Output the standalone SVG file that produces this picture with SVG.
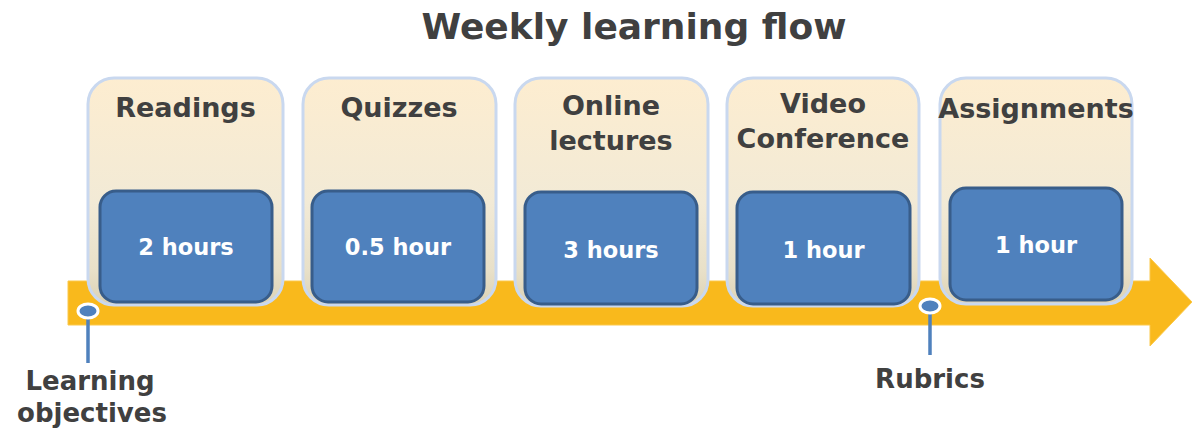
<svg xmlns="http://www.w3.org/2000/svg" width="1192" height="432" viewBox="0 0 1192 432">
  <defs>
    <linearGradient id="cardFill" x1="0" y1="0" x2="0" y2="1">
      <stop offset="0" stop-color="#fdedd0"/>
      <stop offset="0.55" stop-color="#f2ead6"/>
      <stop offset="0.85" stop-color="#e8e0c8"/>
      <stop offset="1" stop-color="#dcd2b4"/>
    </linearGradient>
  </defs>
  <style>
    .title { font-family: "DejaVu Sans", "Liberation Sans", sans-serif; font-weight: bold; fill: #404040; }
    .card { fill: url(#cardFill); stroke: #c9d8ef; stroke-width: 3; }
    .box { fill: #4f81bd; stroke: #385d8a; stroke-width: 3; }
    .head { font-family: "DejaVu Sans", "Liberation Sans", sans-serif; font-weight: bold; font-size: 27px; fill: #404040; text-anchor: middle; }
    .hours { font-family: "DejaVu Sans", "Liberation Sans", sans-serif; font-weight: bold; font-size: 22.5px; fill: #ffffff; text-anchor: middle; }
    .label { font-family: "DejaVu Sans", "Liberation Sans", sans-serif; font-weight: bold; font-size: 26px; fill: #404040; text-anchor: middle; }
    .pin { fill: #4f81bd; stroke: #ffffff; stroke-width: 3; }
    .stem { stroke: #4f81bd; stroke-width: 3.5; fill: none; }
  </style>

  <text class="title" x="634" y="39" font-size="36" text-anchor="middle">Weekly learning flow</text>

  <!-- timeline arrow -->
  <g id="timeline">
    <path d="M68,281 H1150 V258 L1192,302 L1150,346 V325 H68 Z" fill="#f9b91c" stroke="#fbc84a" stroke-width="1"/>
  </g>

  <g id="readings">
    <rect class="card" x="88" y="78" width="195" height="227" rx="26"/>
    <text class="head" x="185.5" y="117">Readings</text>
    <rect class="box" x="100" y="191" width="172" height="111" rx="16"/>
    <text class="hours" x="186" y="255">2 hours</text>
  </g>

  <g id="quizzes">
    <rect class="card" x="303" y="78" width="193" height="227" rx="26"/>
    <text class="head" x="399" y="117">Quizzes</text>
    <rect class="box" x="312" y="191" width="172" height="111" rx="16"/>
    <text class="hours" x="398" y="255">0.5 hour</text>
  </g>

  <g id="online-lectures">
    <rect class="card" x="515" y="78" width="193" height="228" rx="26"/>
    <text class="head" x="611" y="115">Online</text>
    <text class="head" x="611" y="150">lectures</text>
    <rect class="box" x="525" y="192" width="172" height="112" rx="16"/>
    <text class="hours" x="611" y="258">3 hours</text>
  </g>

  <g id="video-conference">
    <rect class="card" x="727" y="78" width="192" height="228" rx="26"/>
    <text class="head" x="823" y="113">Video</text>
    <text class="head" x="823" y="148">Conference</text>
    <rect class="box" x="737" y="192" width="173" height="112" rx="16"/>
    <text class="hours" x="823.5" y="258">1 hour</text>
  </g>

  <g id="assignments">
    <rect class="card" x="940" y="78" width="192" height="226" rx="26"/>
    <text class="head" x="1036" y="118">Assignments</text>
    <rect class="box" x="950" y="188" width="172" height="112" rx="16"/>
    <text class="hours" x="1036" y="253">1 hour</text>
  </g>

  <!-- markers on the timeline with their callout stems -->
  <g id="connectors">
    <line class="stem" x1="88" y1="316" x2="88" y2="363"/>
    <line class="stem" x1="930" y1="312" x2="930" y2="355"/>
  </g>

  <g id="learning-objectives">
    <ellipse class="pin" cx="88" cy="311" rx="10" ry="7"/>
    <text class="label" x="90" y="390">Learning</text>
    <text class="label" x="92" y="422">objectives</text>
  </g>

  <g id="rubrics">
    <ellipse class="pin" cx="930" cy="306" rx="10" ry="7"/>
    <text class="label" x="930" y="388">Rubrics</text>
  </g>
</svg>
